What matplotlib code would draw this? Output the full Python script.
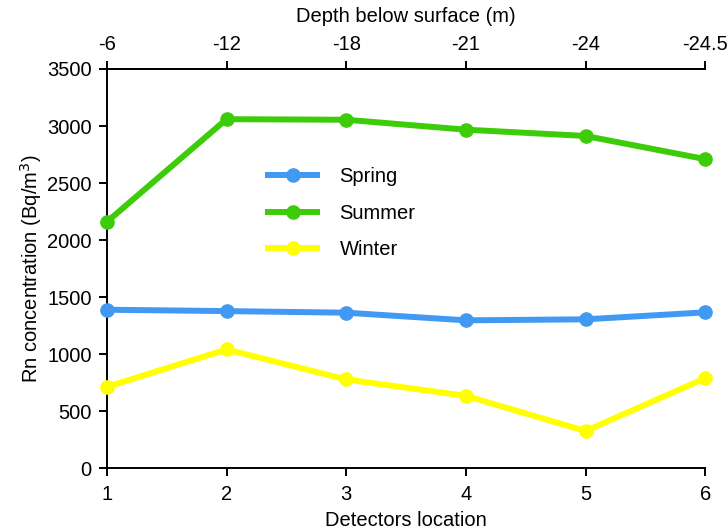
import matplotlib
matplotlib.use("Agg")
import matplotlib.pyplot as plt

plt.rcParams['font.family'] = ['Liberation Sans', 'DejaVu Sans']

locations = [1, 2, 3, 4, 5, 6]
depth_labels = ['-6', '-12', '-18', '-21', '-24', '-24.5']
spring = [1390, 1378, 1364, 1297, 1306, 1367]
summer = [2160, 3060, 3055, 2968, 2913, 2710]
winter = [714, 1042, 779, 635, 327, 790]
series_names = ['Spring', 'Summer', 'Winter']
colors = ['#4199F2', '#3DCC0A', '#FFFF00']

FS = 14.5
fig = plt.figure(figsize=(7.27, 5.29), dpi=100)
ax = fig.add_axes([0.147, 0.1147, 0.823, 0.7549])

for vals, name, c in zip([spring, summer, winter], series_names, colors):
    ax.plot(locations, vals, color=c, lw=4.3, marker='o', ms=9.5, label=name,
            solid_capstyle='butt', clip_on=False, zorder=3)

ax.set_xlim(1, 6)
ax.set_ylim(0, 3500)
ax.set_xticks(locations)
ax.set_yticks(range(0, 3501, 500))
ax.spines['right'].set_visible(False)
for s in ['left', 'bottom', 'top']:
    ax.spines[s].set_linewidth(1.4)
ax.tick_params(direction='out', length=6, width=1.4, labelsize=FS, pad=5)
ax.tick_params(axis='x', pad=6)
ax.set_xlabel('Detectors location', fontsize=FS, labelpad=5)
ax.set_ylabel('Rn concentration (Bq/m$^3$)', fontsize=FS, labelpad=2)

top = ax.secondary_xaxis('top')
top.set_xticks(locations)
top.set_xticklabels(depth_labels)
top.spines['top'].set_linewidth(1.4)
top.tick_params(direction='out', length=6, width=1.4, labelsize=FS, pad=5)
top.set_xlabel('Depth below surface (m)', fontsize=FS, labelpad=9)

leg = ax.legend(loc='upper left', bbox_to_anchor=(265/727, 1 - 167/529),
                bbox_transform=fig.transFigure, frameon=False, borderpad=0,
                borderaxespad=0, fontsize=FS, handlelength=2.75,
                labelspacing=0.88, handletextpad=0.95)

fig.savefig('out.png', dpi=100)
